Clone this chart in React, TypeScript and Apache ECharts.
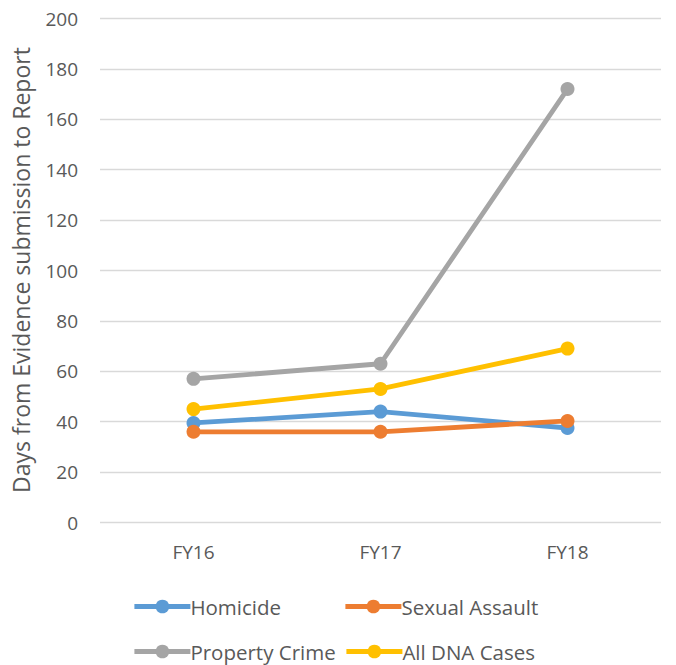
import React, { useEffect, useRef } from "react";
import * as echarts from "echarts";

const categories = ["FY16", "FY17", "FY18"];
const homicide = [39.5, 44, 37.5];
const sexualAssault = [36, 36, 40.3];
const propertyCrime = [57, 63, 172];
const allDnaCases = [45, 53, 69];
const yTicks = { min: 0, max: 200, interval: 20 };
const axisTitle = "Days from Evidence submission to Report";

const FONT = "'Open Sans', sans-serif";
const TEXT = "#595959";

export default function App() {
  const ref = useRef<HTMLDivElement>(null);
  useEffect(() => {
    if (!ref.current) return;
    const chart = echarts.init(ref.current, undefined, { renderer: "svg" });
    const mk = (name: string, data: number[], color: string, z: number) => ({
      name,
      type: "line",
      data,
      z,
      symbol: "circle",
      symbolSize: 14,
      itemStyle: { color },
      lineStyle: { color, width: 4.8 },
    });
    const legendBase = {
      itemWidth: 56,
      itemHeight: 17,
      itemGap: 0,
      lineStyle: { width: 4.8 },
      textStyle: { fontFamily: FONT, fontSize: 20.5, color: TEXT, padding: [0, 0, 0, -5] },
      padding: 0,
    };
    chart.setOption({
      animation: false,
      grid: { left: 100, right: 15, top: 18.5, height: 504, containLabel: false },
      xAxis: {
        type: "category",
        data: categories,
        axisLine: { show: false },
        axisTick: { show: false },
        axisLabel: { fontFamily: FONT, fontSize: 19, color: TEXT, margin: 20 },
      },
      yAxis: {
        type: "value",
        min: yTicks.min,
        max: yTicks.max,
        interval: yTicks.interval,
        axisLine: { show: false },
        axisTick: { show: false },
        splitLine: { lineStyle: { color: "#D9D9D9", width: 1.3 } },
        axisLabel: { fontFamily: FONT, fontSize: 19, color: TEXT, margin: 22 },
      },
      legend: [
        { ...legendBase, data: ["Homicide"], left: 132, top: 596 },
        { ...legendBase, data: ["Sexual Assault"], left: 343, top: 596 },
        { ...legendBase, data: ["Property Crime"], left: 132, top: 641 },
        { ...legendBase, data: ["All DNA Cases"], left: 344, top: 641 },
      ],
      graphic: [
        {
          type: "text",
          x: 21,
          y: 270,
          rotation: Math.PI / 2,
          style: {
            text: axisTitle,
            fontFamily: FONT,
            fontSize: 23,
            fill: TEXT,
            align: "center",
            verticalAlign: "middle",
          },
        },
      ],
      series: [
        mk("Homicide", homicide, "#5B9BD5", 2),
        mk("Sexual Assault", sexualAssault, "#ED7D31", 3),
        mk("Property Crime", propertyCrime, "#A5A5A5", 4),
        mk("All DNA Cases", allDnaCases, "#FFC000", 5),
      ],
    });
    return () => chart.dispose();
  }, []);
  return <div ref={ref} style={{ width: 676, height: 665, position: "absolute", left: 0, top: 0 }} />;
}
